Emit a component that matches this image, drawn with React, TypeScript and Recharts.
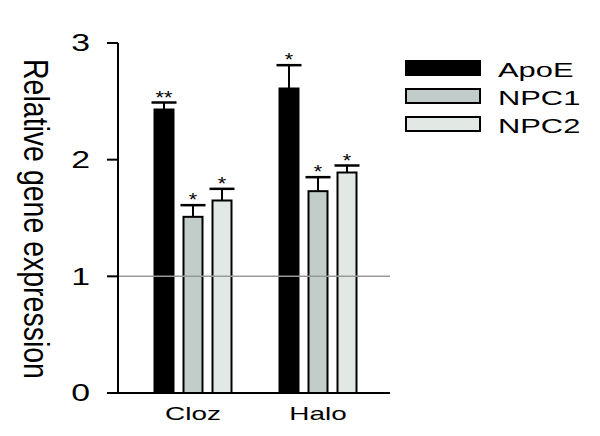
import React from 'react';
import { BarChart, Bar, XAxis, YAxis, ReferenceLine } from 'recharts';

const categories = ['Cloz', 'Halo'];
const apoe = [2.43, 2.61];
const npc1 = [1.51, 1.73];
const npc2 = [1.65, 1.89];
const apoeErr = [0.06, 0.2];
const npc1Err = [0.1, 0.12];
const npc2Err = [0.1, 0.06];
const apoeSig = ['**', '*'];
const npc1Sig = ['*', '*'];
const npc2Sig = ['*', '*'];
const yTicks = [0, 1, 2, 3];

const data = categories.map((c, i) => ({
  name: c,
  apoe: apoe[i], npc1: npc1[i], npc2: npc2[i],
  apoeErr: apoeErr[i], npc1Err: npc1Err[i], npc2Err: npc2Err[i],
  apoeSig: apoeSig[i], npc1Sig: npc1Sig[i], npc2Sig: npc2Sig[i],
}));

const series = [
  { key: 'apoe', name: 'ApoE', fill: '#000000' },
  { key: 'npc1', name: 'NPC1', fill: '#c2cccb' },
  { key: 'npc2', name: 'NPC2', fill: '#e2e9e5' },
];

const FONT = '"Liberation Sans", Arial, sans-serif';
const SX = 1.47;

const makeShape = (key: string) => (props: any) => {
  const { x, y, width, height, payload, fill } = props;
  const val = payload[key];
  const err = payload[key + 'Err'];
  const sig = payload[key + 'Sig'];
  const pxPerUnit = height / val;
  const top = y - err * pxPerUnit;
  const cx = x + width / 2;
  const cap = 12.5;
  return (
    <g>
      <rect x={x} y={y} width={width} height={height} fill={fill} stroke="#000" strokeWidth={2} />
      <line x1={cx} y1={y} x2={cx} y2={top} stroke="#000" strokeWidth={2} />
      <line x1={cx - cap} y1={top} x2={cx + cap} y2={top} stroke="#000" strokeWidth={2.5} />
      <text transform={`translate(${cx},${top + 1}) scale(1.2,1)`} x={0} y={0} textAnchor="middle" fontSize={18} fontFamily={FONT} fill="#000">{sig}</text>
    </g>
  );
};

const XTick = (props: any) => {
  const { x, payload } = props;
  return (
    <text transform={`translate(${x},420) scale(${SX},1)`} x={0} y={0} textAnchor="middle" fontSize={19} fontFamily={FONT} fill="#000">
      {payload.value}
    </text>
  );
};

const YTick = (props: any) => {
  const { y, payload } = props;
  return (
    <text transform={`translate(90,${y + 8.3}) scale(${SX},1)`} x={0} y={0} textAnchor="end" fontSize={23} fontFamily={FONT} fill="#000">
      {payload.value}
    </text>
  );
};

const YLabel = () => (
  <text transform="translate(35,219) rotate(90) scale(1,1.2)" x={0} y={0} textAnchor="middle" dominantBaseline="central" fontSize={28.5} fontFamily={FONT} fill="#000">
    Relative gene expression
  </text>
);

const legendBaselines = [77, 105, 133];

const LegendBox = () => (
  <svg width={600} height={436} style={{ position: 'absolute', left: 0, top: 0, pointerEvents: 'none' }}>
    {series.map((s, i) => (
      <g key={s.key}>
        <rect x={406} y={legendBaselines[i] - 16} width={74} height={14} fill={s.fill} stroke="#000" strokeWidth={2} />
        <text transform={`translate(498,${legendBaselines[i]}) scale(${SX},1)`} x={0} y={0} fontSize={21} fontFamily={FONT} fill="#000">{s.name}</text>
      </g>
    ))}
  </svg>
);

export default function App() {
  return (
    <div style={{ position: 'absolute', left: 0, top: 0, width: 600, height: 436, background: '#fff' }}>
      <BarChart width={600} height={436} data={data} margin={{ top: 43, right: 210, bottom: 0, left: 0 }} barSize={19} barGap={10}>
        <XAxis dataKey="name" height={43} tickLine={false} axisLine={{ stroke: '#000', strokeWidth: 2 }}
          padding={{ left: 12.5, right: 9.5 }} tick={<XTick />} />
        <YAxis domain={[0, 3]} ticks={yTicks} width={118} tickSize={11}
          axisLine={{ stroke: '#000', strokeWidth: 2 }} tickLine={{ stroke: '#000', strokeWidth: 2 }}
          tick={<YTick />} label={<YLabel />} />
        <ReferenceLine y={1} stroke="#999" strokeWidth={1.5} />
        {series.map((s) => (
          <Bar key={s.key} dataKey={s.key} name={s.name} fill={s.fill} isAnimationActive={false} shape={makeShape(s.key)} />
        ))}
      </BarChart>
      <LegendBox />
    </div>
  );
}
